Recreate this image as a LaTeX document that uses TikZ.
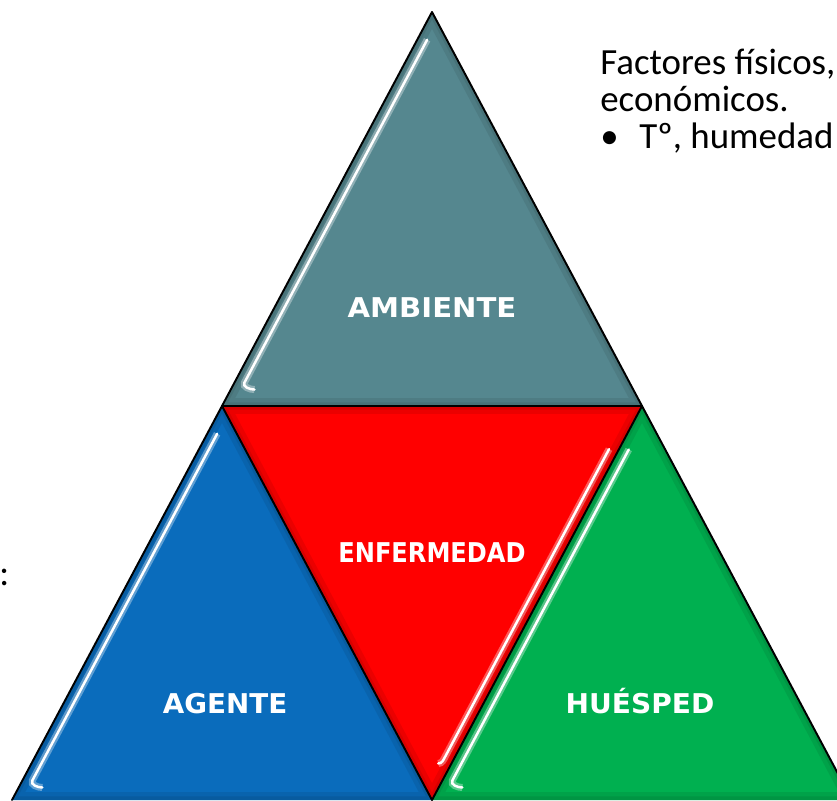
\documentclass[tikz,border=0pt]{standalone}
\usepackage{fontspec}
\setmainfont{Carlito}
\newfontfamily\lblfont{DejaVu Sans}
\usetikzlibrary{calc}

\definecolor{ambiente}{HTML}{55878F}
\definecolor{agente}{HTML}{0A6CBC}
\definecolor{enfermedad}{HTML}{FF0000}
\definecolor{huesped}{HTML}{00B050}

\tikzset{
  edge/.style={draw=black, line width=1.1pt, line join=round, line cap=round},
  bevel/.style={draw=black, opacity=.08, line width=#1},
  gloss/.style={draw=white, line width=1.4pt, line cap=round,
    preaction={draw=white, opacity=.35, line width=4pt}},
  lbl/.style={anchor=base, text=white, inner sep=0pt,
    font=\lblfont\bfseries\fontsize{15.5}{18}\selectfont},
  txt/.style={anchor=base west, inner sep=0pt, font=\fontsize{21}{25}\selectfont},
}

\begin{document}
\begin{tikzpicture}[x=0.02cm, y=-0.02cm]
  \useasboundingbox (0,0) rectangle (837,800);
  \clip (0,0) rectangle (837,800);
  % corners of the big triangle and the midpoints of its sides
  \coordinate (A) at (432,12);
  \coordinate (L) at (222,406);
  \coordinate (R) at (642,406);
  \coordinate (BL) at (12,800);
  \coordinate (M) at (432,800);
  \coordinate (BR) at (852,800);

  % the four faces
  \fill[ambiente] (A) -- (L) -- (R) -- cycle;
  \fill[agente] (L) -- (BL) -- (M) -- cycle;
  \fill[enfermedad] (L) -- (R) -- (M) -- cycle;
  \fill[huesped] (R) -- (M) -- (BR) -- cycle;

  % darker band inside each face
  \foreach \p in {{(A) -- (L) -- (R) -- cycle}, {(L) -- (BL) -- (M) -- cycle},
                  {(L) -- (R) -- (M) -- cycle}, {(R) -- (M) -- (BR) -- cycle}}{
    \begin{scope}
      \clip \p;
      \draw[bevel=9pt] \p;
      \draw[bevel=4pt] \p;
    \end{scope}
  }

  % shiny streaks along one side of each face
  \draw[gloss] ($(A)!.06!(L)!5pt!90:(L)$) -- ($(A)!.93!(L)!5pt!90:(L)$)
    to[out=242, in=180] ++(10,7);
  \draw[gloss] ($(L)!.06!(BL)!5pt!90:(BL)$) -- ($(L)!.94!(BL)!5pt!90:(BL)$)
    to[out=242, in=180] ++(10,7);
  \draw[gloss] ($(R)!.10!(M)!5pt!90:(M)$) -- ($(R)!.94!(M)!5pt!90:(M)$)
    to[out=242, in=180] ++(10,7);
  \draw[gloss] ($(R)!.12!(M)!5pt!-90:(M)$) -- ($(R)!.90!(M)!5pt!-90:(M)$)
    to[out=242, in=0] ++(-7,7);

  % outlines
  \draw[edge] (BL) -- (A) -- (BR);
  \draw[edge] (L) -- (R) -- (M) -- cycle;

  % labels
  \node[lbl] (ambiente) at (432,317) {\scalebox{1.07}[1]{AMBIENTE}};
  \node[lbl] (enfermedad) at (432,562) {\scalebox{.885}[1]{ENFERMEDAD}};
  \node[lbl] (agente) at (225,713) {\scalebox{1.02}[1]{AGENTE}};
  \node[lbl] (huesped) at (640,713) {\scalebox{1.03}[1]{HUÉSPED}};

  % side notes
  \node[txt] (factores) at (600,75) {Factores físicos,};
  \node[txt] (economicos) at (600,112) {económicos.};
  \node[txt] (bullet) at (600,149) {•};
  \node[txt] (temp) at (639,149) {Tº, humedad};
  \node[txt] (colon) at (-1,585) {:};
\end{tikzpicture}
\end{document}
